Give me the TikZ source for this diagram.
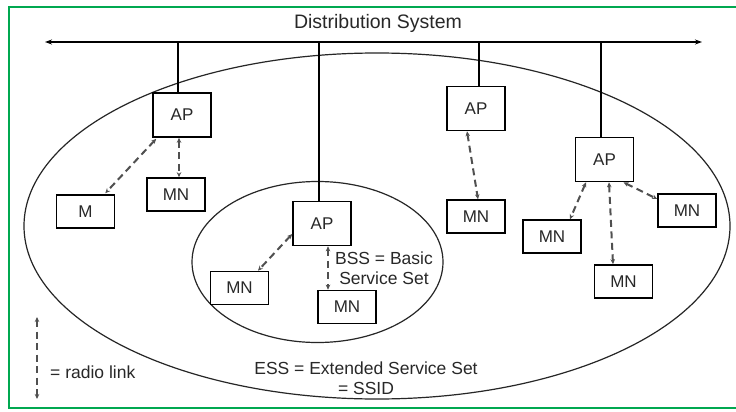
\documentclass[tikz,border=0pt]{standalone}
\usepackage{fontspec}
\setmainfont{Liberation Sans}
\usetikzlibrary{arrows.meta,calc}
\definecolor{framegreen}{RGB}{0,168,80}
\definecolor{txt}{RGB}{40,40,40}
\definecolor{radio}{RGB}{80,80,80}
\begin{document}
\begin{tikzpicture}[x=1pt,y=-1pt,
  box/.style={draw=black,line width=1.6pt,fill=white,minimum width=58pt,inner sep=0pt,text=txt,font=\fontsize{17}{19}\selectfont},
  apbox/.style={box,minimum height=44pt},
  mnbox/.style={box,minimum height=33pt},
  wire/.style={line width=2.6pt,black},
  bus/.style={line width=1.7pt,black,{Stealth[length=7pt,width=5pt]}-{Stealth[length=7pt,width=5pt]}},
  radiolink/.style={line width=2pt,radio,dash pattern=on 7pt off 4.5pt,{Stealth[length=5pt,width=4.5pt]}-{Stealth[length=5pt,width=4.5pt]}},
  set/.style={line width=1.2pt,black!85},
  lbl/.style={text=txt,font=\fontsize{17.5}{19.5}\selectfont,align=center,inner sep=0pt}]
\useasboundingbox (0,0) rectangle (736,412);
\fill[white] (0,0) rectangle (736,412);
% frame
\draw[framegreen,line width=2pt] (736,7) -- (9,7) -- (9,408) -- (736,408);
% title
\node[lbl,font=\fontsize{19.5}{22}\selectfont] (title) at (378,23) {Distribution System};
% bus
\coordinate (busL) at (45,42);
\coordinate (busR) at (702,42);
\draw[bus] (busL) -- (busR);
% sets
\draw[set] (377,226) ellipse [x radius=353, y radius=173];
\draw[set] (317.5,262) ellipse [x radius=125.5, y radius=80.5];
% tap points on the bus
\coordinate (t1) at (178,42);
\coordinate (t2) at (319,42);
\coordinate (t3) at (479,42);
\coordinate (t4) at (601,42);
% access points
\node[apbox] (ap1) at (182,115) {AP};
\node[apbox] (ap2) at (322,223.5) {AP};
\node[apbox] (ap3) at (476,108.5) {AP};
\node[apbox] (ap4) at (604.5,159.5) {AP};
\draw[wire] (t1) -- (t1 |- ap1.north);
\draw[wire] (t2) -- (t2 |- ap2.north);
\draw[wire] (t3) -- (t3 |- ap3.north);
\draw[wire] (t4) -- (t4 |- ap4.north);
% mobile nodes
\node[mnbox] (m) at (85.5,211.5) {M};
\node[mnbox] (mn1) at (176,194.5) {MN};
\node[mnbox] (mn3) at (476,216.5) {MN};
\node[mnbox] (mn4a) at (552,236.5) {MN};
\node[mnbox] (mn4b) at (623.5,281.5) {MN};
\node[mnbox] (mn4c) at (687,210.5) {MN};
\node[mnbox] (mni1) at (239.5,288) {MN};
\node[mnbox] (mni2) at (347,307) {MN};
% radio links
\draw[radiolink] ($(ap1.south west)+(4,1)$) -- ($(m.north east)+(-10,-1)$);
\draw[radiolink] ($(ap1.south)+(-3,0)$) -- ($(mn1.north)+(3,0)$);
\draw[radiolink] ($(ap3.south)+(-9,0)$) -- ($(mn3.north)+(2,0)$);
\draw[radiolink] ($(ap4.south)+(-18.5,0)$) -- ($(mn4a.north)+(18,0)$);
\draw[radiolink] ($(ap4.south)+(4.5,0)$) -- ($(mn4b.north)+(-10.5,0)$);
\draw[radiolink] ($(ap4.south)+(19,0)$) -- ($(mn4c.west)+(0,-11.5)$);
\draw[radiolink] ($(ap2.west)+(0,10.5)$) -- ($(mni1.north)+(18.5,0)$);
\draw[radiolink] ($(ap2.south)+(6,0)$) -- ($(mni2.north)+(-19,0)$);
% labels
\node[lbl] (bss) at (384,268) {BSS = Basic\\Service Set};
\node[lbl] (ess) at (366,378) {ESS = Extended Service Set\\= SSID};
\coordinate (legT) at (37,317);
\coordinate (legB) at (37,399);
\draw[radiolink] (legT) -- (legB);
\node[lbl,anchor=west] (leg) at (50,372) {= radio link};
\end{tikzpicture}
\end{document}
